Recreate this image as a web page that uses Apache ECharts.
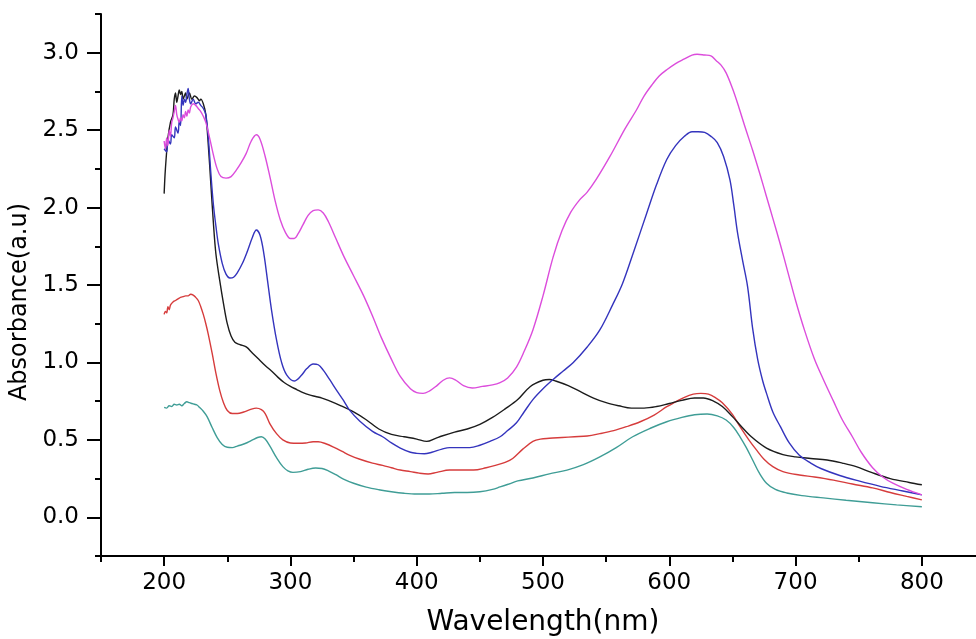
<!DOCTYPE html>
<html>
<head>
<meta charset="utf-8">
<script src="https://cdn.jsdelivr.net/npm/echarts@6/dist/echarts.min.js"></script>
<style>
html,body{margin:0;padding:0;background:#fff;}
#chart{width:976px;height:639px;}
</style>
</head>
<body>
<div id="chart"></div>
<script>
// Wavelength (nm) / Absorbance (a.u) pairs
const blackCurve = [[200,2.09],[201,2.25],[203,2.45],[205,2.55],[207,2.60],[208,2.70],[209,2.74],[210,2.68],[211,2.72],[212,2.76],[213,2.73],[214,2.75],[215,2.70],[216,2.72],[217,2.74],[218,2.70],[219,2.72],[220,2.74],[222,2.70],[224,2.72],[226,2.71],[228,2.69],[229,2.70],[231,2.67],[233,2.60],[235,2.40],[237,2.15],[239,1.90],[241,1.70],[244,1.53],[247,1.38],[250,1.25],[253,1.17],[256,1.13],[260,1.115],[265,1.10],[270,1.06],[275,1.02],[280,0.98],[285,0.945],[290,0.905],[295,0.87],[300,0.845],[305,0.825],[310,0.805],[315,0.79],[320,0.78],[325,0.77],[330,0.755],[340,0.72],[350,0.68],[360,0.63],[370,0.57],[380,0.535],[390,0.52],[400,0.505],[408,0.49],[415,0.51],[420,0.525],[430,0.55],[440,0.57],[450,0.60],[460,0.645],[470,0.70],[480,0.76],[490,0.845],[500,0.885],[505,0.89],[510,0.88],[520,0.85],[530,0.81],[540,0.77],[550,0.74],[560,0.72],[570,0.705],[580,0.705],[590,0.715],[600,0.735],[610,0.755],[620,0.77],[627,0.77],[635,0.75],[642,0.715],[650,0.65],[656,0.596],[665,0.52],[677,0.447],[690,0.405],[700,0.39],[712,0.38],[725,0.37],[737,0.35],[748,0.327],[760,0.29],[775,0.25],[790,0.225],[800,0.21]];

const blueCurve = [[200,2.38],[202,2.36],[203,2.44],[205,2.41],[206,2.47],[208,2.45],[209,2.52],[211,2.48],[212,2.56],[213,2.53],[214,2.72],[215,2.66],[216,2.70],[217,2.68],[218,2.73],[219,2.77],[220,2.70],[221,2.67],[223,2.70],[225,2.67],[227,2.68],[229,2.66],[231,2.64],[233,2.60],[235,2.45],[237,2.22],[239,2.02],[241,1.88],[243,1.76],[246,1.64],[249,1.57],[252,1.545],[255,1.55],[258,1.58],[262,1.64],[266,1.72],[270,1.81],[273,1.855],[276,1.82],[279,1.70],[282,1.52],[285,1.34],[289,1.145],[293,1.0],[297,0.92],[303,0.88],[308,0.91],[313,0.96],[318,0.99],[322,0.985],[326,0.95],[331,0.89],[337,0.815],[342,0.755],[347,0.69],[355,0.62],[365,0.555],[373,0.52],[380,0.48],[387,0.447],[395,0.42],[400,0.413],[406,0.41],[412,0.42],[420,0.44],[426,0.45],[435,0.45],[442,0.45],[450,0.465],[458,0.49],[466,0.52],[472,0.56],[479,0.61],[485,0.68],[492,0.76],[500,0.83],[508,0.89],[516,0.945],[524,1.0],[535,1.10],[545,1.21],[555,1.37],[563,1.51],[572,1.72],[582,1.96],[590,2.15],[598,2.31],[605,2.40],[612,2.46],[618,2.49],[623,2.49],[628,2.485],[633,2.46],[638,2.42],[643,2.33],[648,2.18],[651,2.02],[654,1.84],[658,1.66],[662,1.49],[666,1.22],[670,1.02],[674,0.88],[677,0.80],[682,0.68],[688,0.585],[695,0.48],[703,0.40],[712,0.35],[720,0.315],[735,0.27],[750,0.235],[767,0.20],[785,0.17],[800,0.145]];

const magentaCurve = [[200,2.43],[201,2.38],[202,2.45],[203,2.40],[204,2.50],[205,2.46],[206,2.55],[207,2.58],[208,2.62],[209,2.66],[210,2.60],[211,2.57],[212,2.55],[213,2.58],[214,2.56],[215,2.60],[216,2.58],[217,2.62],[218,2.59],[219,2.63],[220,2.61],[221,2.65],[223,2.67],[225,2.66],[227,2.64],[229,2.62],[231,2.59],[233,2.55],[236,2.45],[239,2.34],[242,2.25],[245,2.20],[249,2.19],[253,2.20],[257,2.24],[261,2.29],[265,2.35],[269,2.43],[273,2.47],[276,2.44],[280,2.33],[284,2.19],[288,2.04],[292,1.92],[296,1.84],[300,1.80],[303,1.80],[306,1.83],[310,1.89],[314,1.95],[318,1.98],[322,1.985],[326,1.965],[330,1.91],[336,1.80],[342,1.69],[350,1.56],[358,1.43],[365,1.30],[372,1.16],[380,1.02],[387,0.91],[395,0.83],[400,0.805],[405,0.80],[410,0.815],[416,0.85],[421,0.885],[426,0.90],[431,0.885],[437,0.85],[444,0.835],[452,0.845],[460,0.855],[466,0.87],[472,0.90],[479,0.97],[485,1.07],[492,1.21],[500,1.43],[508,1.68],[515,1.85],[522,1.97],[529,2.05],[535,2.10],[542,2.18],[553,2.33],[565,2.51],[574,2.63],[580,2.72],[587,2.80],[592,2.85],[598,2.89],[605,2.93],[612,2.96],[618,2.985],[622,2.99],[628,2.985],[633,2.98],[637,2.95],[641,2.92],[645,2.87],[650,2.77],[655,2.65],[660,2.52],[666,2.37],[672,2.21],[677,2.07],[682,1.93],[688,1.76],[694,1.58],[700,1.40],[707,1.21],[715,1.02],[722,0.89],[730,0.75],[737,0.63],[745,0.52],[752,0.42],[761,0.32],[769,0.26],[777,0.22],[788,0.18],[800,0.145]];

const redCurve = [[200,1.31],[201,1.33],[202,1.32],[203,1.36],[204,1.34],[205,1.37],[207,1.39],[209,1.40],[211,1.41],[213,1.42],[215,1.425],[217,1.43],[219,1.43],[221,1.44],[223,1.435],[225,1.42],[227,1.40],[229,1.36],[231,1.31],[233,1.25],[235,1.18],[238,1.06],[241,0.93],[244,0.82],[247,0.74],[250,0.69],[254,0.67],[258,0.67],[263,0.68],[268,0.695],[273,0.705],[277,0.695],[280,0.67],[284,0.60],[289,0.54],[294,0.50],[300,0.48],[306,0.478],[312,0.48],[318,0.488],[322,0.488],[328,0.475],[335,0.45],[341,0.425],[347,0.40],[355,0.375],[365,0.35],[373,0.335],[380,0.32],[387,0.305],[395,0.295],[402,0.285],[409,0.28],[416,0.29],[426,0.305],[435,0.305],[445,0.305],[455,0.32],[463,0.337],[470,0.355],[476,0.38],[484,0.44],[492,0.49],[498,0.505],[505,0.51],[515,0.515],[525,0.52],[535,0.525],[545,0.54],[556,0.56],[566,0.585],[577,0.617],[588,0.66],[598,0.714],[605,0.745],[612,0.775],[619,0.795],[625,0.80],[631,0.795],[637,0.77],[642,0.74],[650,0.665],[656,0.585],[663,0.50],[669,0.435],[675,0.375],[682,0.327],[690,0.295],[703,0.273],[715,0.26],[730,0.24],[745,0.215],[761,0.19],[775,0.16],[788,0.135],[800,0.112]];

const tealCurve = [[200,0.71],[202,0.705],[204,0.72],[206,0.715],[208,0.73],[210,0.725],[212,0.73],[214,0.72],[216,0.735],[218,0.746],[220,0.74],[222,0.735],[224,0.73],[226,0.725],[228,0.71],[231,0.685],[234,0.65],[238,0.58],[242,0.515],[246,0.47],[250,0.452],[254,0.45],[258,0.46],[262,0.47],[266,0.483],[270,0.50],[274,0.515],[277,0.52],[280,0.505],[284,0.456],[289,0.385],[294,0.327],[298,0.30],[302,0.29],[308,0.295],[314,0.31],[320,0.318],[325,0.315],[330,0.30],[336,0.275],[342,0.247],[350,0.22],[360,0.195],[370,0.178],[380,0.165],[390,0.155],[400,0.15],[410,0.15],[420,0.155],[430,0.16],[440,0.16],[450,0.165],[460,0.18],[466,0.196],[473,0.215],[480,0.235],[492,0.254],[505,0.28],[519,0.305],[532,0.34],[545,0.39],[558,0.45],[571,0.52],[585,0.575],[598,0.617],[610,0.645],[620,0.662],[630,0.667],[638,0.655],[645,0.628],[651,0.58],[656,0.52],[661,0.45],[666,0.37],[671,0.29],[677,0.22],[684,0.18],[693,0.157],[705,0.14],[722,0.125],[740,0.11],[761,0.094],[780,0.08],[800,0.068]];

// Tick positions
const xMajorTicks = [200,300,400,500,600,700,800];
const xMinorTicks = [150,250,350,450,550,650,750,850];
const yMajorTicks = [0,0.5,1.0,1.5,2.0,2.5,3.0];
const yMinorTicks = [-0.25,0.25,0.75,1.25,1.75,2.25,2.75,3.25];

const FONT = 'DejaVu Sans';
const chart = echarts.init(document.getElementById('chart'), null, {renderer:'canvas'});

function mk(name, data, color){
  return {
    name: name, type:'line', data: data, showSymbol:false, symbol:'none',
    smooth:0.35,
    lineStyle:{color:color, width:1.4}, itemStyle:{color:color},
    xAxisIndex:0, yAxisIndex:0, animation:false
  };
}

const baseX = {type:'value', min:150, max:850, position:'bottom'};
const baseY = {type:'value', min:-0.25, max:3.25, position:'left'};

chart.setOption({
  backgroundColor:'#fff',
  animation:false,
  grid:{left:101, top:14, right:-9, bottom:83, containLabel:false, outerBoundsMode:'none'},
  xAxis:[
    Object.assign({}, baseX, {
      name:'Wavelength(nm)', nameLocation:'middle', nameGap:53,
      nameTextStyle:{fontFamily:FONT, fontSize:28, color:'#000'},
      axisLine:{show:true, onZero:false, lineStyle:{color:'#000', width:2}},
      axisTick:{show:true, inside:false, length:10, lineStyle:{color:'#000', width:2}, customValues:xMajorTicks},
      axisLabel:{show:true, margin:16, fontFamily:FONT, fontSize:23, color:'#000', customValues:xMajorTicks},
      splitLine:{show:false}
    }),
    Object.assign({}, baseX, {
      axisLine:{show:false, onZero:false},
      axisTick:{show:true, inside:false, length:6, lineStyle:{color:'#000', width:2}, customValues:xMinorTicks},
      axisLabel:{show:false},
      splitLine:{show:false}
    })
  ],
  yAxis:[
    Object.assign({}, baseY, {
      name:'Absorbance(a.u)', nameLocation:'middle', nameGap:62, nameRotate:90,
      nameTextStyle:{fontFamily:FONT, fontSize:24, color:'#000', padding:[0,34,0,0]},
      axisLine:{show:true, onZero:false, lineStyle:{color:'#000', width:2}},
      axisTick:{show:true, inside:false, length:14, lineStyle:{color:'#000', width:2}, customValues:yMajorTicks},
      axisLabel:{show:true, margin:22, fontFamily:FONT, fontSize:23, color:'#000', customValues:yMajorTicks,
        formatter:function(v){return v.toFixed(1);}},
      splitLine:{show:false}
    }),
    Object.assign({}, baseY, {
      axisLine:{show:false, onZero:false},
      axisTick:{show:true, inside:false, length:6, lineStyle:{color:'#000', width:2}, customValues:yMinorTicks},
      axisLabel:{show:false},
      splitLine:{show:false}
    })
  ],
  series:[
    mk('teal', tealCurve, '#3f9d96'),
    mk('red', redCurve, '#d63c3c'),
    mk('black', blackCurve, '#1c1c1c'),
    mk('blue', blueCurve, '#3434bd'),
    mk('magenta', magentaCurve, '#dc4ddc')
  ]
});
</script>
</body>
</html>
